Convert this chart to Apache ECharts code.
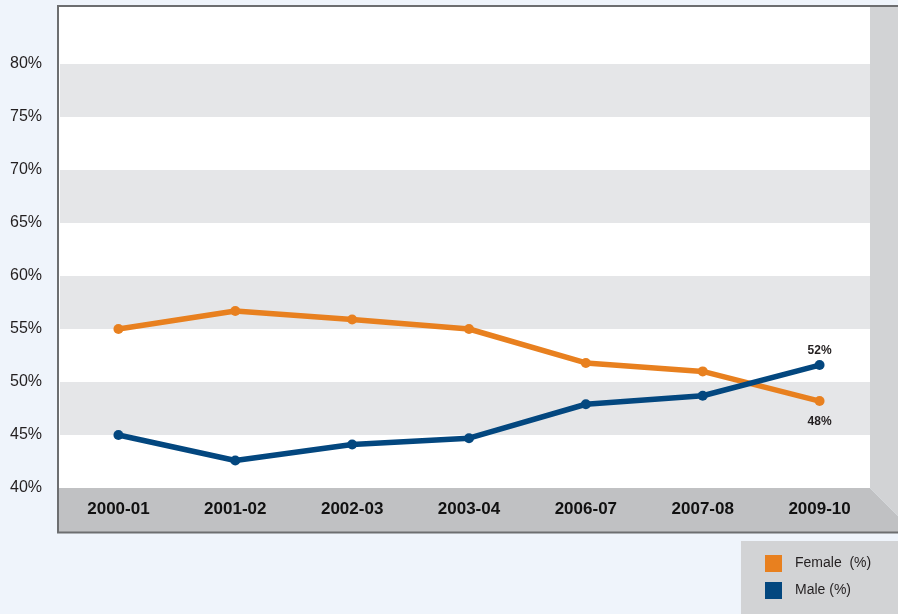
<!DOCTYPE html>
<html>
<head>
<meta charset="utf-8">
<script src="https://cdn.jsdelivr.net/npm/echarts@6/dist/echarts.min.js"></script>
<style>
  html, body { margin: 0; padding: 0; background: #eff4fb; }
  #chart { width: 898px; height: 614px; }
</style>
</head>
<body>
<div id="chart"></div>
<script>
// Academic years on the category axis
const years = ['2000-01', '2001-02', '2002-03', '2003-04', '2006-07', '2007-08', '2009-10'];
// Share of students by gender, in percent
const female = [55.0, 56.7, 55.9, 55.0, 51.8, 51.0, 48.2];
const male = [45.0, 42.6, 44.1, 44.7, 47.9, 48.7, 51.6];
// Value axis range and step
const yMin = 40;
const yMax = 85;
const yStep = 5;
const seriesNames = ['Female  (%)', 'Male (%)'];

const FONT = "'Liberation Sans', Arial, Helvetica, sans-serif";
const TEXT = '#231f20';
const ORANGE = '#e8801f';
const BLUE = '#03477f';
const BORDER = '#6d6e70';

// Only the most recent point carries a value label
function withEndLabel(values, position, distance) {
  return values.map((v, i) => i === values.length - 1
    ? { value: v, label: { show: true, position: position, distance: distance } }
    : v);
}

const chart = echarts.init(document.getElementById('chart'), null, { renderer: 'canvas' });

chart.setOption({
  backgroundColor: '#eff4fb',
  animation: false,
  textStyle: { fontFamily: FONT },
  grid: { left: 60, right: 20, top: 11, bottom: 126, containLabel: false },
  legend: {
    orient: 'vertical',
    left: 765,
    top: 555,
    padding: 0,
    itemWidth: 17,
    itemHeight: 17,
    itemGap: 10,
    icon: 'rect',
    data: seriesNames,
    textStyle: { fontFamily: FONT, fontSize: 14, color: TEXT, padding: [3, 0, 0, 8] }
  },
  xAxis: {
    type: 'category',
    data: years,
    boundaryGap: true,
    axisLine: { show: false },
    axisTick: { show: false },
    splitLine: { show: false },
    axisLabel: {
      margin: 13,
      fontFamily: FONT,
      fontSize: 17,
      fontWeight: 'bold',
      color: '#111'
    }
  },
  yAxis: {
    type: 'value',
    min: yMin,
    max: yMax,
    interval: yStep,
    axisLine: { show: false },
    axisTick: { show: false },
    splitLine: { show: false },
    splitArea: { show: true, areaStyle: { color: ['#ffffff', '#e5e6e8'] } },
    axisLabel: {
      margin: 18,
      fontFamily: FONT,
      fontSize: 16,
      color: TEXT,
      padding: [4, 0, 0, 0],
      formatter: v => (v > 80 ? '' : v + '%')
    }
  },
  graphic: [
    // back wall
    { type: 'rect', z: -3, silent: true, shape: { x: 59, y: 7, width: 811, height: 481 }, style: { fill: '#ffffff' } },
    // floor of the box
    { type: 'polygon', z: -2, silent: true,
      shape: { points: [[59, 488], [870, 488], [898, 516], [898, 533], [59, 533]] },
      style: { fill: '#c0c1c3' } },
    // right side wall
    { type: 'polygon', z: 1, silent: true,
      shape: { points: [[870, 7], [898, 7], [898, 516], [870, 488]] },
      style: { fill: '#d2d3d5' } },
    // frame lines
    { type: 'polyline', z: 3, silent: true,
      shape: { points: [[898, 6], [58, 6], [58, 532.5], [898, 532.5]] },
      style: { stroke: BORDER, lineWidth: 2, fill: null } },
    // legend panel
    { type: 'rect', z: -2, silent: true, shape: { x: 741, y: 541, width: 157, height: 73 }, style: { fill: '#d2d3d5' } }
  ],
  series: [
    {
      name: seriesNames[0],
      type: 'line',
      data: withEndLabel(female, 'bottom', 10),
      color: ORANGE,
      symbol: 'circle',
      symbolSize: 10,
      lineStyle: { width: 5.5, color: ORANGE },
      itemStyle: { color: ORANGE },
      label: {
        show: false,
        fontFamily: FONT,
        fontSize: 12,
        fontWeight: 'bold',
        color: TEXT,
        formatter: p => Math.round(p.value) + '%'
      },
      z: 3
    },
    {
      name: seriesNames[1],
      type: 'line',
      data: withEndLabel(male, 'top', 3),
      color: BLUE,
      symbol: 'circle',
      symbolSize: 10,
      lineStyle: { width: 5.5, color: BLUE },
      itemStyle: { color: BLUE },
      label: {
        show: false,
        fontFamily: FONT,
        fontSize: 12,
        fontWeight: 'bold',
        color: TEXT,
        formatter: p => Math.round(p.value) + '%'
      },
      z: 4
    }
  ]
});
</script>
</body>
</html>
